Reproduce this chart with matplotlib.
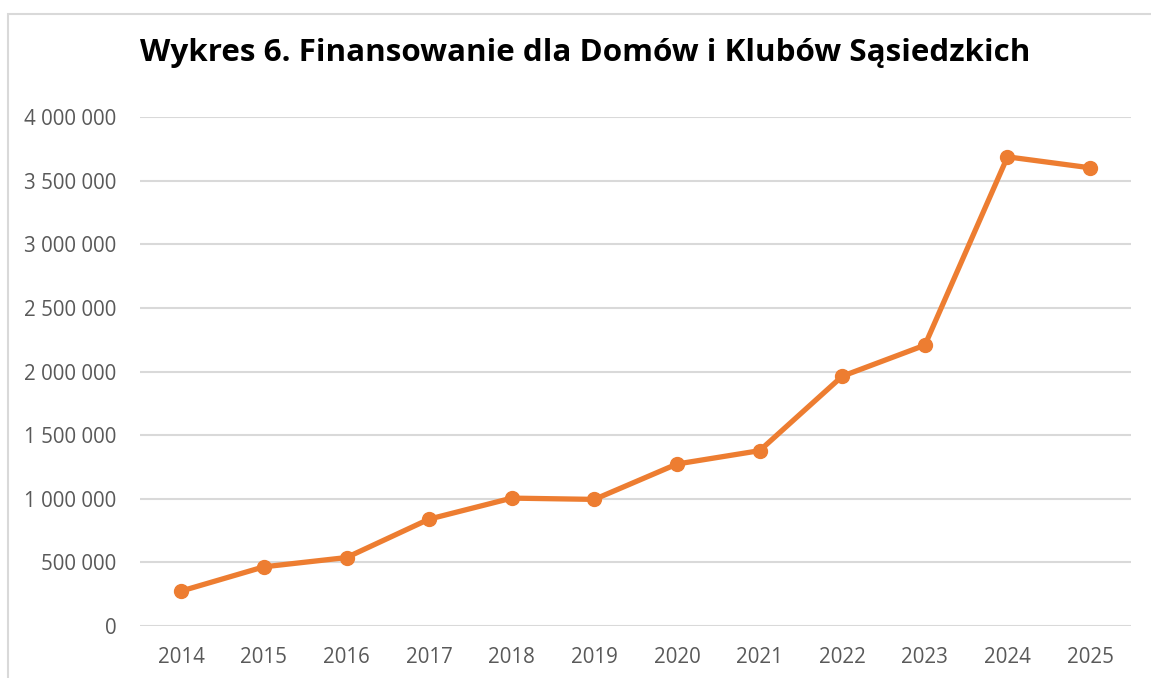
import matplotlib.pyplot as plt
from matplotlib.patches import Rectangle
from matplotlib.ticker import FuncFormatter

# dane
lata = ['2014', '2015', '2016', '2017', '2018', '2019',
        '2020', '2021', '2022', '2023', '2024', '2025']
kwoty = [275000, 465000, 538000, 840000, 1005000, 995000,
         1273000, 1378000, 1963000, 2207000, 3687000, 3601000]
y_ticki = [0, 500000, 1000000, 1500000, 2000000, 2500000, 3000000, 3500000, 4000000]

tytul = 'Wykres 6. Finansowanie dla Domów i Klubów Sąsiedzkich'

plt.rcParams['font.family'] = ['Open Sans', 'DejaVu Sans']

fig = plt.figure(figsize=(11.51, 6.78), dpi=100)
ax = fig.add_axes([0.1216, 0.0767, 0.983 - 0.1216, 0.8274 - 0.0767])

# ramka wykresu (jak w Excelu)
fig.patches.append(Rectangle((8 / 1151, -0.1), 1.2, 1 - 14 / 678 + 0.1,
                             transform=fig.transFigure, fill=False,
                             edgecolor='#D9D9D9', linewidth=1.5))

x = range(len(lata))
ax.plot(x, kwoty, color='#ED7D31', linewidth=3.8, marker='o',
        markersize=10, solid_capstyle='round', zorder=3)

ax.set_xlim(-0.5, len(lata) - 0.5)
ax.set_ylim(0, 4000000)
ax.set_xticks(list(x))
ax.set_xticklabels(lata)
ax.set_yticks(y_ticki)
ax.yaxis.set_major_formatter(FuncFormatter(lambda v, p: f'{int(v):,}'.replace(',', ' ')))

ax.grid(axis='y', color='#D9D9D9', linewidth=1.5)
ax.set_axisbelow(True)
for s in ax.spines.values():
    s.set_visible(False)
ax.tick_params(axis='both', length=0, labelsize=14.8, colors='#595959')
ax.tick_params(axis='x', pad=15)
ax.tick_params(axis='y', pad=17)

fig.text(585 / 1151, 1 - 53 / 678, tytul, ha='center', va='center',
         fontsize=22.6, fontweight='bold', color='black')

fig.savefig('out.png', dpi=100)
